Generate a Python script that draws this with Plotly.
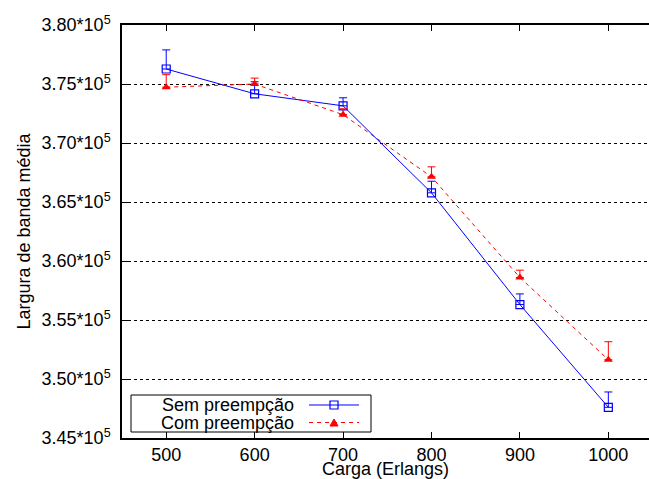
import plotly.graph_objects as go

carga = [500, 600, 700, 800, 900, 1000]
sem_vals = [376270, 374170, 373150, 365780, 356310, 347600]
sem_err = [1620, 1020, 680, 980, 900, 1300]
com_vals = [374730, 375000, 372400, 367130, 358600, 351630]
com_err = [1060, 500, 500, 850, 620, 1530]
ytick_vals = [345000, 350000, 355000, 360000, 365000, 370000, 375000, 380000]
ytick_text = ["3.45*10<sup>5</sup>", "3.50*10<sup>5</sup>", "3.55*10<sup>5</sup>", "3.60*10<sup>5</sup>",
              "3.65*10<sup>5</sup>", "3.70*10<sup>5</sup>", "3.75*10<sup>5</sup>", "3.80*10<sup>5</sup>"]
series_names = ["Sem preempção", "Com preempção"]

BLUE = "#0000ff"
RED = "#ff0000"
FONT = "Liberation Sans"
FS = 18

fig = go.Figure()
fig.add_trace(go.Scatter(
    x=carga, y=sem_vals, mode="lines+markers", name=series_names[0],
    line=dict(color=BLUE, width=1),
    marker=dict(symbol="square-open", size=8, color=BLUE, line=dict(width=1.2, color=BLUE)),
    error_y=dict(type="data", array=sem_err, arrayminus=[0] * len(sem_err), symmetric=False,
                 color=BLUE, thickness=1, width=4),
    showlegend=False,
))
fig.add_trace(go.Scatter(
    x=carga, y=com_vals, mode="lines+markers", name=series_names[1],
    line=dict(color=RED, width=1, dash="4px,4px"),
    marker=dict(symbol="triangle-up", size=8, color=RED),
    error_y=dict(type="data", array=com_err, arrayminus=[0] * len(com_err), symmetric=False,
                 color=RED, thickness=1, width=4),
    showlegend=False,
))

# plot area geometry in pixels: x 122..649, y 25..438
L, R, T, B = 122, 649, 25, 438
def px(x):
    return (x - L) / (R - L)
def py(y):
    return (B - y) / (B - T)

shapes = []
shapes.append(dict(type="rect", xref="paper", yref="paper", x0=px(131), x1=px(371), y0=py(432), y1=py(395),
                   line=dict(color="black", width=1), fillcolor="white", layer="above"))
shapes.append(dict(type="line", xref="paper", yref="paper", x0=px(309), x1=px(359), y0=py(405), y1=py(405),
                   line=dict(color=BLUE, width=1), layer="above"))
shapes.append(dict(type="line", xref="paper", yref="paper", x0=px(309), x1=px(359), y0=py(422.5), y1=py(422.5),
                   line=dict(color=RED, width=1, dash="4px,4px"), layer="above"))
shapes.append(dict(type="rect", xref="paper", yref="paper", x0=px(330), x1=px(338), y0=py(409), y1=py(401),
                   line=dict(color=BLUE, width=1.2), fillcolor="rgba(0,0,0,0)", layer="above"))
tri = "M {} {} L {} {} L {} {} Z".format(px(330), py(426), px(338), py(426), px(334), py(419))
shapes.append(dict(type="path", xref="paper", yref="paper", path=tri,
                   line=dict(color=RED, width=1), fillcolor=RED, layer="above"))

annotations = [
    dict(text=series_names[0], xref="paper", yref="paper", x=px(296), y=py(405), xanchor="right",
         yanchor="middle", showarrow=False, font=dict(family=FONT, size=FS, color="black")),
    dict(text=series_names[1], xref="paper", yref="paper", x=px(296), y=py(422.5), xanchor="right",
         yanchor="middle", showarrow=False, font=dict(family=FONT, size=FS, color="black")),
]

fig.update_layout(
    width=649, height=479,
    margin=dict(l=L, r=649 - R, t=T, b=479 - B),
    plot_bgcolor="white", paper_bgcolor="white",
    font=dict(family=FONT, size=FS, color="black"),
    shapes=shapes, annotations=annotations,
    showlegend=False,
)
fig.update_xaxes(
    range=[450, 1046], tickvals=carga, ticks="inside", ticklen=6, tickcolor="black",
    showline=True, linecolor="black", linewidth=1.5, mirror="ticks", showgrid=False, zeroline=False,
    title=dict(text="Carga (Erlangs)", standoff=0, font=dict(family=FONT, size=FS)),
    tickfont=dict(family=FONT, size=FS),
)
fig.update_yaxes(
    range=[345000, 380000], tickvals=ytick_vals, ticktext=ytick_text, ticks="inside", ticklen=6,
    tickcolor="black", showline=True, linecolor="black", linewidth=1.5, mirror=False,
    showgrid=True, gridcolor="black", griddash="dot", gridwidth=1, zeroline=False,
    ticklabelstandoff=6,
    title=dict(text="Largura de banda média", standoff=6, font=dict(family=FONT, size=FS)),
    tickfont=dict(family=FONT, size=FS),
)

fig.write_html("out.html")
